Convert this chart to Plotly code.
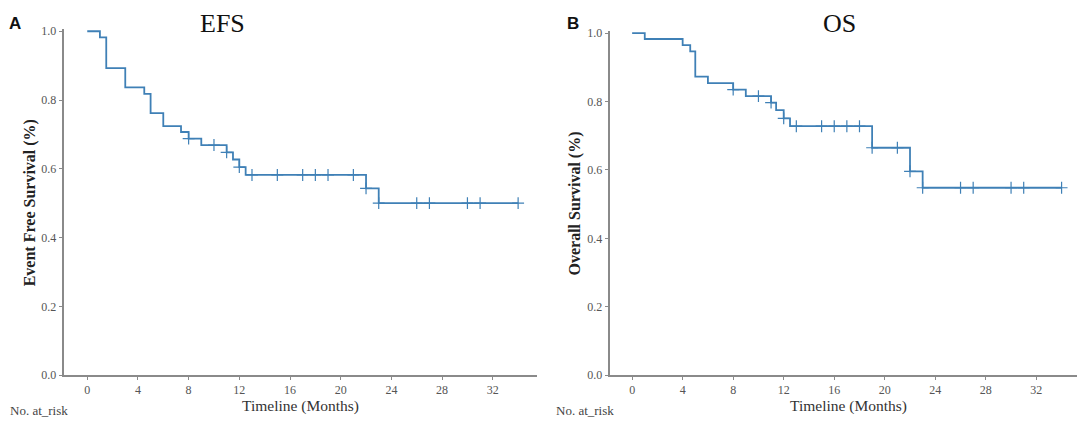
import numpy as np
import plotly.graph_objects as go

# ---- data ----
efs_times = [0, 1, 1.5, 3, 4.5, 5, 6, 7.4, 8, 9, 11, 11.5, 12, 12.5, 22, 23, 34]
efs_surv = [1.0, 0.982, 0.893, 0.837, 0.818, 0.762, 0.724, 0.707, 0.688, 0.669,
            0.648, 0.627, 0.605, 0.582, 0.543, 0.50, 0.50]
efs_censor_times = [8, 10, 11, 12, 13, 15, 17, 18, 19, 21, 22, 23, 26, 27, 30, 31, 34]

os_times = [0, 1, 4, 4.6, 5, 6, 8, 9, 11, 11.4, 12, 12.5, 19, 22, 23, 34]
os_surv = [1.0, 0.983, 0.965, 0.947, 0.873, 0.854, 0.835, 0.816, 0.797, 0.775,
           0.751, 0.728, 0.665, 0.596, 0.548, 0.548]
os_censor_times = [8, 10, 11, 12, 13, 15, 16, 17, 18, 19, 21, 22, 23, 26, 27, 30, 31, 34]

x_tickvals = [0, 4, 8, 12, 16, 20, 24, 28, 32]
y_tickvals = [0.0, 0.2, 0.4, 0.6, 0.8, 1.0]
y_ticktext = ["0.0", "0.2", "0.4", "0.6", "0.8", "1.0"]

panel_titles = ["EFS", "OS"]
panel_letters = ["A", "B"]
y_titles = ["Event Free Survival (%)", "Overall Survival (%)"]
x_title = "Timeline (Months)"
risk_label = "No. at_risk"

LINE = "#3f80b6"
W, H = 1080, 430


def step_value(times, surv, t):
    idx = np.searchsorted(np.array(times), t, side="right") - 1
    return surv[idx]


fig = go.Figure()

panels = [
    dict(times=efs_times, surv=efs_surv, cens=efs_censor_times, xa="x", ya="y"),
    dict(times=os_times, surv=os_surv, cens=os_censor_times, xa="x2", ya="y2"),
]
for p in panels:
    fig.add_trace(go.Scatter(x=p["times"], y=p["surv"], mode="lines",
                             line=dict(color=LINE, width=1.8, shape="hv"),
                             xaxis=p["xa"], yaxis=p["ya"], showlegend=False,
                             hoverinfo="skip"))
    cy = [step_value(p["times"], p["surv"], t) for t in p["cens"]]
    fig.add_trace(go.Scatter(x=p["cens"], y=cy, mode="markers",
                             marker=dict(symbol="cross-thin", size=8.5,
                                         line=dict(color=LINE, width=1.2)),
                             xaxis=p["xa"], yaxis=p["ya"], showlegend=False,
                             hoverinfo="skip", cliponaxis=False))

tickfont = dict(family="Liberation Serif", size=12, color="#555555")
axis_common = dict(showgrid=False, zeroline=False, showline=True,
                   linecolor="#8a8a8a", linewidth=1.5, ticks="outside",
                   tickcolor="#8a8a8a", tickfont=tickfont)

# geometry (px)
ax_left, ax_right = 64.3, 537.0
bx_left, bx_right = 610.4, 1077.0
y_bottom, y_top = 380.7, 25.0

fig.update_layout(
    width=W, height=H,
    margin=dict(l=0, r=0, t=0, b=0),
    paper_bgcolor="white", plot_bgcolor="white",
    xaxis=dict(domain=[ax_left / W, ax_right / W], range=[-1.81, 35.49],
               tickvals=x_tickvals, ticklen=3, anchor="y", **axis_common),
    yaxis=dict(domain=[1 - y_bottom / H, 1 - y_top / H], range=[0, 1.0057],
               tickvals=y_tickvals, ticktext=y_ticktext, ticklen=4, anchor="x",
               **axis_common),
    xaxis2=dict(domain=[bx_left / W, bx_right / W], range=[-1.72, 35.22],
                tickvals=x_tickvals, ticklen=3, anchor="y2", **axis_common),
    yaxis2=dict(domain=[1 - y_bottom / H, 1 - 27.0 / H], range=[0, 1.0057],
                tickvals=y_tickvals, ticktext=y_ticktext, ticklen=4, anchor="x2",
                **axis_common),
)

ann = []
for txt, cx in zip(panel_titles, [222, 839.5]):
    ann.append(dict(text=txt, x=cx / W, y=1 - 19 / H, xref="paper", yref="paper",
                    showarrow=False, xanchor="center", yanchor="middle",
                    font=dict(family="Liberation Serif", size=26, color="#111111")))
for txt, cx in zip(panel_letters, [14.5, 572.6]):
    ann.append(dict(text="<b>%s</b>" % txt, x=cx / W, y=1 - 19 / H, xref="paper",
                    yref="paper", showarrow=False, xanchor="center", yanchor="middle",
                    font=dict(family="Liberation Sans", size=17, color="#111111")))
for txt, cx in zip(y_titles, [30.0, 575.2]):
    ann.append(dict(text="<b>%s</b>" % txt, x=cx / W, y=1 - 204 / H, xref="paper",
                    yref="paper", showarrow=False, textangle=-90,
                    xanchor="center", yanchor="middle",
                    font=dict(family="Liberation Serif", size=16, color="#222222")))
for cx in [(ax_left + ax_right) / 2, 848.0]:
    ann.append(dict(text=x_title, x=cx / W, y=1 - 412 / H, xref="paper", yref="paper",
                    showarrow=False, xanchor="center", yanchor="middle",
                    font=dict(family="Liberation Serif", size=15.5, color="#333333")))
for lx in [7.6, 553.7]:
    ann.append(dict(text=risk_label, x=lx / W, y=1 - 417 / H, xref="paper",
                    yref="paper", showarrow=False, xanchor="left", yanchor="middle",
                    font=dict(family="Liberation Serif", size=13, color="#444444")))
fig.update_layout(annotations=ann)

fig.write_html("out.html", config={"displayModeBar": False},
               post_script="document.body.style.margin='0';document.body.style.overflow='hidden';")
